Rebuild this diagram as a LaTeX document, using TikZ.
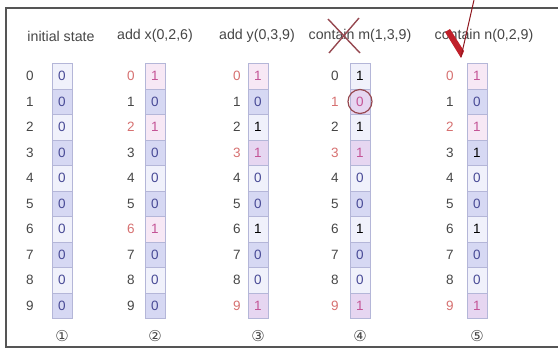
\documentclass[tikz,border=0pt]{standalone}
\usepackage{fontspec}
\setmainfont{Liberation Sans}
\newfontfamily\circfont{DejaVu Sans}
\usepackage{xcolor}

\definecolor{framegray}{RGB}{85,85,85}
\definecolor{cellline}{RGB}{180,182,216}
\definecolor{celllight}{RGB}{240,241,251}
\definecolor{celldark}{RGB}{214,216,243}
\definecolor{pinklight}{RGB}{247,232,245}
\definecolor{pinkdark}{RGB}{230,214,241}
\definecolor{idxgray}{RGB}{70,70,70}
\definecolor{idxred}{RGB}{214,112,112}
\definecolor{bitblue}{RGB}{72,74,150}
\definecolor{bitpink}{RGB}{196,84,150}
\definecolor{markred}{RGB}{192,32,42}
\definecolor{crossred}{RGB}{150,72,80}

\begin{document}
\begin{tikzpicture}[x=1pt, y=-1pt,
  every node/.style={inner sep=0pt, font=\fontsize{13.5}{15}\selectfont},
  coltitle/.style={font=\fontsize{14.2}{16}\selectfont, text=idxgray},
  bitcell/.style={draw=cellline, minimum width=20pt, minimum height=25.5pt},
  cell00/.style={bitcell, fill=celllight},
  cell01/.style={bitcell, fill=celldark},
  cell10/.style={bitcell, fill=pinklight},
  cell11/.style={bitcell, fill=pinkdark},
  idx0/.style={text=idxgray},
  idx1/.style={text=idxred},
  bit00/.style={text=bitblue},
  bit01/.style={text=black},
  bit10/.style={text=bitpink},
  bit11/.style={text=bitpink},
  circnum/.style={font=\circfont\fontsize{15}{16}\selectfont, text=idxgray}
]
\useasboundingbox (0,0) rectangle (558,351);
\draw[framegray, line width=1.6pt] (558,8) -- (6,8) -- (6,347) -- (558,347);

% column headings
\node[coltitle] (ttl-a) at (61,36)  {initial state};
\node[coltitle] (ttl-b) at (155,36) {add x(0,2,6)};
\node[coltitle] (ttl-c) at (257,36) {add y(0,3,9)};
\node[coltitle] (ttl-d) at (360,36) {contain m(1,3,9)};
\node[coltitle] (ttl-e) at (484,36) {contain n(0,2,9)};

% index / value / highlighted
\foreach \c/\xi/\xb/\num/\cells in {
  a/30/52/①/{0/0/0,1/0/0,2/0/0,3/0/0,4/0/0,5/0/0,6/0/0,7/0/0,8/0/0,9/0/0},
  b/131/145/②/{0/1/1,1/0/0,2/1/1,3/0/0,4/0/0,5/0/0,6/1/1,7/0/0,8/0/0,9/0/0},
  c/237/248/③/{0/1/1,1/0/0,2/1/0,3/1/1,4/0/0,5/0/0,6/1/0,7/0/0,8/0/0,9/1/1},
  d/335/350/④/{0/1/0,1/0/1,2/1/0,3/1/1,4/0/0,5/0/0,6/1/0,7/0/0,8/0/0,9/1/1},
  e/450/467/⑤/{0/1/1,1/0/0,2/1/1,3/1/0,4/0/0,5/0/0,6/1/0,7/0/0,8/0/0,9/1/1}}{
  \foreach \r/\v/\h in \cells {
    \pgfmathtruncatemacro\p{mod(\r,2)}
    \node[idx\h] (idx-\c-\r) at (\xi,76+25.5*\r) {\r};
    \node[cell\h\p, bit\h\v] (bit-\c-\r) at (\xb+10,76+25.5*\r) {\v};
  }
  \node[circnum] (num-\c) at (\xb+10,336) {\num};
}

% marks
\draw[crossred, line width=1.4pt] (328,19) -- (360,53) (359,18) -- (329,53);
\fill[markred] (445,32) -- (450,29) -- (464,51) -- (461,58) -- cycle;
\draw[markred!75!black, line width=1pt] (461,57) -- (474,0);
\draw[crossred, line width=1.2pt] (bit-d-1) circle (12pt);
\end{tikzpicture}
\end{document}
